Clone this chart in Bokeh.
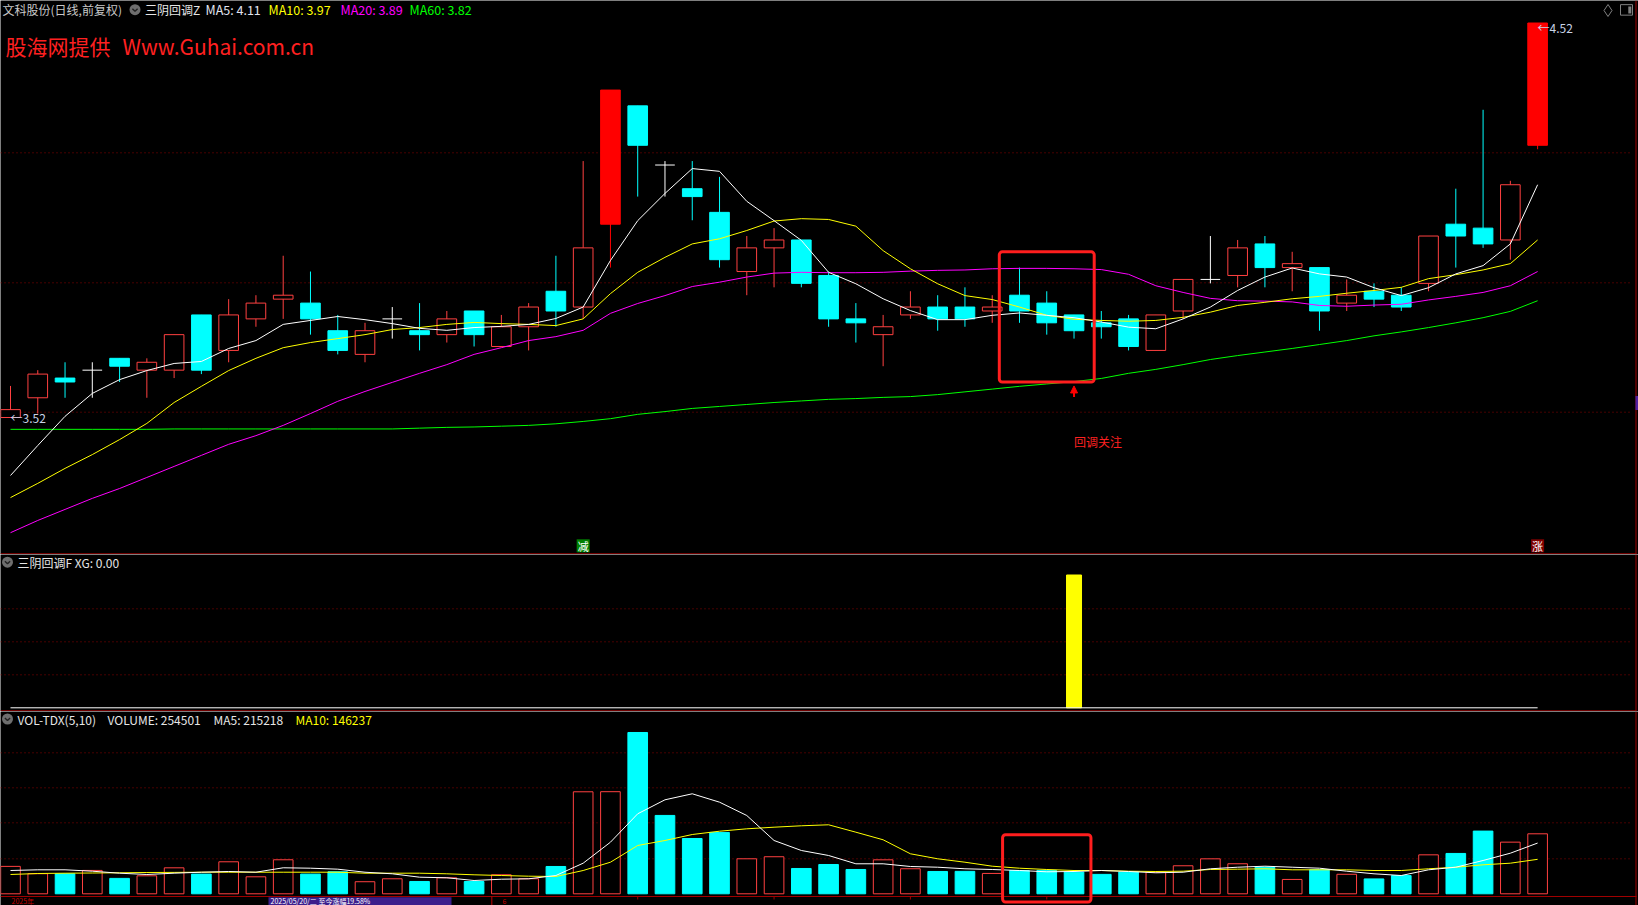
from bokeh.plotting import figure
from bokeh.layouts import column
from bokeh.models import Range1d, BoxAnnotation, Arrow, NormalHead
from bokeh.core.properties import value
from bokeh.embed import file_html
from bokeh.resources import INLINE

# ---------------- data ----------------
stock_title = "文科股份(日线,前复权)"
main_indicator = "三阴回调Z"
sub_indicator = "三阴回调F"
vol_indicator = "VOL-TDX(5,10)"
watermark_cn = "股海网提供"
watermark_url = "Www.Guhai.com.cn"
pullback_label = "回调关注"
year_label = "2025年"
cursor_label = "2025/05/20/二  至今涨幅19.58%"
month_label = "6"

opens = [3.52, 3.57, 3.62, 3.64, 3.67, 3.64, 3.64, 3.78, 3.69, 3.77,
         3.82, 3.81, 3.74, 3.68, 3.77, 3.74, 3.73, 3.79, 3.70, 3.75,
         3.84, 3.80, 4.01, 4.31, 4.16, 4.10, 4.04, 3.89, 3.95, 3.97,
         3.88, 3.77, 3.73, 3.78, 3.80, 3.80, 3.79, 3.83, 3.81, 3.78,
         3.76, 3.77, 3.69, 3.79, 3.87, 3.88, 3.96, 3.90, 3.90, 3.81,
         3.84, 3.83, 3.86, 4.01, 4.00, 3.97, 4.21]
highs = [3.60, 3.64, 3.66, 3.66, 3.67, 3.67, 3.73, 3.78, 3.82, 3.83,
         3.93, 3.89, 3.78, 3.76, 3.80, 3.81, 3.79, 3.79, 3.78, 3.81,
         3.93, 4.17, 4.35, 4.31, 4.17, 4.17, 4.13, 3.98, 4.00, 3.97,
         3.89, 3.81, 3.78, 3.84, 3.83, 3.85, 3.83, 3.90, 3.84, 3.78,
         3.79, 3.78, 3.78, 3.87, 3.98, 3.97, 3.98, 3.94, 3.90, 3.87,
         3.86, 3.85, 3.98, 4.10, 4.30, 4.12, 4.52]
lows = [3.52, 3.53, 3.57, 3.57, 3.61, 3.57, 3.62, 3.63, 3.66, 3.75,
        3.77, 3.73, 3.68, 3.66, 3.72, 3.69, 3.71, 3.70, 3.70, 3.69,
        3.75, 3.77, 3.90, 4.08, 4.08, 4.02, 3.90, 3.83, 3.85, 3.85,
        3.75, 3.71, 3.65, 3.77, 3.74, 3.75, 3.76, 3.76, 3.73, 3.72,
        3.72, 3.69, 3.69, 3.77, 3.86, 3.85, 3.85, 3.84, 3.74, 3.79,
        3.80, 3.79, 3.84, 3.90, 3.95, 3.92, 4.20]
closes = [3.54, 3.63, 3.61, 3.64, 3.65, 3.66, 3.73, 3.64, 3.78, 3.81,
          3.83, 3.77, 3.69, 3.74, 3.77, 3.73, 3.77, 3.73, 3.75, 3.80,
          3.79, 3.95, 4.35, 4.21, 4.16, 4.08, 3.92, 3.95, 3.97, 3.86,
          3.77, 3.76, 3.75, 3.80, 3.77, 3.77, 3.80, 3.79, 3.76, 3.74,
          3.75, 3.70, 3.78, 3.87, 3.87, 3.95, 3.90, 3.91, 3.79, 3.83,
          3.82, 3.80, 3.98, 3.98, 3.96, 4.11, 4.52]

ma5 = [3.373, 3.449, 3.523, 3.581, 3.616, 3.639, 3.657, 3.662, 3.695, 3.715,
       3.756, 3.766, 3.776, 3.768, 3.758, 3.746, 3.741, 3.748, 3.751, 3.756,
       3.771, 3.800, 3.918, 4.019, 4.088, 4.151, 4.144, 4.068, 4.019, 3.969,
       3.888, 3.859, 3.821, 3.791, 3.768, 3.768, 3.779, 3.785, 3.779, 3.773,
       3.762, 3.749, 3.745, 3.770, 3.800, 3.842, 3.876, 3.899, 3.884, 3.876,
       3.849, 3.829, 3.849, 3.884, 3.905, 3.960, 4.110]
ma10 = [3.317, 3.353, 3.391, 3.426, 3.464, 3.505, 3.558, 3.599, 3.639, 3.670,
        3.697, 3.710, 3.720, 3.730, 3.743, 3.748, 3.756, 3.761, 3.758, 3.756,
        3.753, 3.770, 3.834, 3.888, 3.926, 3.960, 3.973, 3.994, 4.018, 4.024,
        4.022, 4.005, 3.943, 3.897, 3.859, 3.829, 3.819, 3.800, 3.779, 3.769,
        3.766, 3.764, 3.766, 3.774, 3.787, 3.804, 3.812, 3.821, 3.827, 3.835,
        3.842, 3.850, 3.872, 3.882, 3.894, 3.910, 3.970]
ma20 = [3.228, 3.259, 3.287, 3.315, 3.340, 3.368, 3.396, 3.424, 3.452, 3.474,
        3.500, 3.530, 3.561, 3.586, 3.609, 3.632, 3.654, 3.680, 3.697, 3.715,
        3.725, 3.741, 3.784, 3.809, 3.829, 3.852, 3.863, 3.876, 3.886, 3.888,
        3.887, 3.887, 3.888, 3.891, 3.893, 3.894, 3.897, 3.898, 3.898, 3.897,
        3.895, 3.883, 3.854, 3.837, 3.822, 3.816, 3.815, 3.813, 3.804, 3.802,
        3.805, 3.807, 3.818, 3.827, 3.837, 3.854, 3.890]
ma60 = [3.490, 3.490, 3.490, 3.490, 3.490, 3.490, 3.491, 3.491, 3.491, 3.491,
        3.491, 3.491, 3.491, 3.491, 3.491, 3.493, 3.495, 3.496, 3.498, 3.500,
        3.504, 3.510, 3.517, 3.528, 3.535, 3.543, 3.548, 3.553, 3.558, 3.562,
        3.566, 3.568, 3.571, 3.573, 3.578, 3.585, 3.592, 3.599, 3.605, 3.611,
        3.619, 3.632, 3.642, 3.654, 3.667, 3.677, 3.686, 3.695, 3.705, 3.715,
        3.727, 3.737, 3.748, 3.760, 3.773, 3.789, 3.816]

volumes = [116300, 85200, 84900, 99100, 65400, 76300, 110200, 83500, 135800, 72100,
           144300, 83600, 93400, 51200, 63700, 52300, 67900, 52100, 80800, 63900,
           115900, 432700, 433100, 684200, 332400, 234600, 260300, 148500, 157200, 107400,
           124300, 103200, 144100, 106300, 94700, 95200, 86400, 98900, 99300, 92100,
           82400, 92300, 91800, 118900, 148300, 127400, 113200, 60900, 102200, 82800,
           63100, 77300, 165300, 171200, 266000, 219100, 254501]
vol_ma5 = [98800, 101800, 101800, 95900, 87400, 81900, 87400, 91600, 94600, 91600,
           110300, 108600, 104400, 91600, 84800, 70400, 67900, 56400, 61900, 63600,
           77600, 129800, 218900, 339400, 398700, 424200, 388600, 332100, 226100, 183700,
           162500, 127300, 127300, 115800, 112800, 106100, 103100, 98800, 93300, 94600,
           98800, 94600, 89100, 91600, 106100, 112800, 117100, 112800, 108600, 95900,
           84800, 77600, 101800, 112800, 141300, 172200, 215218]
vol_ma10 = [81900, 86100, 87400, 88200, 89100, 90400, 90800, 91600, 91600, 91600,
            91600, 91600, 91600, 87400, 87400, 87400, 84800, 80600, 77600, 74700,
            73400, 98800, 134000, 204900, 226100, 251500, 265500, 275700, 282500, 288500,
            292700, 261300, 229100, 169700, 148500, 134000, 117100, 108600, 103100, 98800,
            98800, 95900, 94600, 95900, 103100, 104400, 106100, 101800, 101800, 101800,
            98800, 98800, 106100, 112800, 123000, 129800, 146237]

xg = [0, 0, 0, 0, 0, 0, 0, 0, 0, 0,
      0, 0, 0, 0, 0, 0, 0, 0, 0, 0,
      0, 0, 0, 0, 0, 0, 0, 0, 0, 0,
      0, 0, 0, 0, 0, 0, 0, 0, 0, 1,
      0, 0, 0, 0, 0, 0, 0, 0, 0, 0,
      0, 0, 0, 0, 0, 0, 0]
xg_now = [0.00]

sell_mark_idx = [21]
rise_mark_idx = [56]
highlight_idx = [37, 38, 39]
highlight_price = [3.94, 3.61]      # box top, box bottom
highlight_vol_top = [251000]
pullback_arrow_price = [3.60]
pullback_text_price = [3.46]
week_tick_idx = [23, 28, 33, 38]
month_tick_idx = [18]

# ---------------- layout ----------------
FONT = "Noto Sans CJK SC"
REF_W, REF_H = 1638, 905
W, H = 1638, 905
BOUNDS = [0, 554, 711, 905]
PIX = [round(b * H / REF_H) for b in BOUNDS]
X_FIRST, X_STEP = 10.0, 27.27

BG = "#000000"
GRID = "#8c0000"
FRAME = "#a00000"
UP = "#ff4040"
DOWN = "#00ffff"
LIMIT = "#ff0000"
DOJI = "#ffffff"
YEL = "#ffff00"
MAG = "#ff00ff"
GRN = "#00ff00"
WHT = "#ffffff"
BOXRED = "#ff1e1e"
BODY_W = 0.72

n = len(closes)
idx = list(range(n))
xr = Range1d((0 - X_FIRST) / X_STEP, (REF_W - X_FIRST) / X_STEP)


def lin(ya, va, yb, vb):
    k = (vb - va) / (yb - ya)
    return lambda y: va + (y - ya) * k


lo_i = lows.index(min(lows))
hi_i = highs.index(max(highs))
price_of = lin(417.0, lows[lo_i], 22.5, highs[hi_i])
sig_of = lin(707.3, 0.0, 574.5, 1.0)
vol_of = lin(893.3, 0.0, 833.3, volumes[-1])


def make_panel(k, to_val):
    top, bot = BOUNDS[k], BOUNDS[k + 1]
    h = PIX[k + 1] - PIX[k]
    p = figure(width=W, height=h, x_range=xr,
               y_range=Range1d(to_val(bot), to_val(top)),
               x_axis_type=None, y_axis_type=None,
               output_backend="svg", toolbar_location=None,
               background_fill_color=BG, border_fill_color=BG,
               outline_line_color=None, min_border=0)
    p.extra_x_ranges = {"px": Range1d(0, REF_W)}
    p.extra_y_ranges = {"px": Range1d(bot, top)}
    return p


def txt(p, x, y, s, color, size=12, align="left", baseline="middle"):
    p.text(x=[x], y=[y], text=[s], x_range_name="px", y_range_name="px",
           text_font=value(FONT), text_font_size=f"{size}px", text_color=color,
           text_align=align, text_baseline=baseline)


def icon(p, x, y):
    p.scatter(x=[x], y=[y], size=11, marker="circle", fill_color="#6e6e6e",
              line_color=None, x_range_name="px", y_range_name="px")
    p.line(x=[x - 2.6, x, x + 2.6], y=[y - 1.0, y + 1.6, y - 1.0],
           line_color="#222222", line_width=1.4, x_range_name="px", y_range_name="px")


def hgrid(p, ys):
    p.segment(x0=[0] * len(ys), y0=ys, x1=[1632] * len(ys), y1=ys,
              x_range_name="px", y_range_name="px",
              line_color=GRID, line_width=1, line_dash="1 3")


def kind(i):
    o, c = opens[i], closes[i]
    if i > 0 and c > o and c >= closes[i - 1] * 1.1 - 0.006:
        return "limit"
    if c > o:
        return "up"
    if c < o:
        return "down"
    return "doji"


kinds = [kind(i) for i in idx]
wick_col = {"up": UP, "down": DOWN, "doji": DOJI, "limit": LIMIT}

# ================= main panel =================
p1 = make_panel(0, price_of)
hgrid(p1, [152.3, 282.3, 411.7])
p1.segment(x0=[0], y0=[553.3], x1=[1636], y1=[553.3], x_range_name="px",
           y_range_name="px", line_color=FRAME, line_width=1)
p1.segment(x0=[1635.5], y0=[0], x1=[1635.5], y1=[554], x_range_name="px",
           y_range_name="px", line_color=FRAME, line_width=1)

p1.segment(x0=idx, y0=lows, x1=idx, y1=highs,
           line_color=[wick_col[k] for k in kinds], line_width=1)
ui = [i for i in idx if kinds[i] == "up"]
di = [i for i in idx if kinds[i] == "down"]
li = [i for i in idx if kinds[i] == "limit"]
zi = [i for i in idx if kinds[i] == "doji"]
p1.vbar(x=ui, top=[closes[i] for i in ui], bottom=[opens[i] for i in ui],
        width=BODY_W, fill_color=BG, line_color=UP, line_width=1)
p1.vbar(x=di, top=[opens[i] for i in di], bottom=[closes[i] for i in di],
        width=BODY_W, fill_color=DOWN, line_color=DOWN, line_width=1)
p1.vbar(x=li, top=[closes[i] for i in li], bottom=[opens[i] for i in li],
        width=BODY_W, fill_color=LIMIT, line_color=LIMIT, line_width=1)
p1.segment(x0=[i - BODY_W / 2 for i in zi], y0=[closes[i] for i in zi],
           x1=[i + BODY_W / 2 for i in zi], y1=[closes[i] for i in zi],
           line_color=DOJI, line_width=1)

p1.line(idx, ma60, line_color=GRN, line_width=1)
p1.line(idx, ma20, line_color=MAG, line_width=1)
p1.line(idx, ma10, line_color=YEL, line_width=1)
p1.line(idx, ma5, line_color=WHT, line_width=1)

PAD = 0.74
p1.add_layout(BoxAnnotation(left=highlight_idx[0] - PAD, right=highlight_idx[-1] + PAD,
                            top=highlight_price[0], bottom=highlight_price[1],
                            fill_alpha=0, line_color=BOXRED, line_alpha=1.0,
                            line_width=3, border_radius=3))

ai = [i for i in idx if xg[i] > 0][0]
tip = pullback_arrow_price[0]
p1.add_layout(Arrow(end=NormalHead(size=7, fill_color=LIMIT, line_color=LIMIT, line_width=1),
                    x_start=ai, y_start=tip - 11 / 394.5, x_end=ai, y_end=tip,
                    line_color=LIMIT, line_width=2))
p1.text(x=[ai], y=pullback_text_price, text=[pullback_label], text_font=value(FONT),
        text_font_size="12px", text_color="#ff2020", text_align="left",
        text_baseline="middle")

LBL = "#c8d2e6"
p1.text(x=[lo_i], y=[lows[lo_i]], text=[f"←{lows[lo_i]:.2f}"], text_font=value(FONT),
        text_font_size="12px", text_color=LBL, text_align="left", text_baseline="middle")
p1.text(x=[hi_i], y=[highs[hi_i]], text=[f"←{highs[hi_i]:.2f}"], text_font=value(FONT),
        text_font_size="12px", text_color=LBL, text_align="left", text_baseline="middle",
        y_offset=4)

for marks, bg, ch in ((sell_mark_idx, "#008000", "减"), (rise_mark_idx, "#800000", "涨")):
    p1.rect(x=marks, y=[545.3] * len(marks), width=13, height=13, width_units="screen",
            height_units="screen", y_range_name="px", fill_color=bg, line_color=None)
    p1.text(x=marks, y=[545.6] * len(marks), text=[ch] * len(marks), y_range_name="px",
            text_font=value(FONT), text_font_size="11px", text_color=WHT,
            text_align="center", text_baseline="middle")

# header
txt(p1, 2, 9.2, stock_title, "#c8c8c8")
icon(p1, 134.5, 9.2)
txt(p1, 144.5, 9.2, main_indicator, "#e6e6e6")
txt(p1, 205, 9.2, f"MA5: {ma5[-1]:.2f}", "#e0e4f0", size=12.5)
txt(p1, 268, 9.2, f"MA10: {ma10[-1]:.2f}", YEL, size=12.5)
txt(p1, 340, 9.2, f"MA20: {ma20[-1]:.2f}", MAG, size=12.5)
txt(p1, 409, 9.2, f"MA60: {ma60[-1]:.2f}", GRN, size=12.5)
txt(p1, 5, 45, watermark_cn, "#ff2020", size=21)
txt(p1, 122, 45, watermark_url, "#ff2020", size=21)

# top-right chrome
p1.scatter(x=[1607.5], y=[10], size=12, marker="diamond", fill_color=None,
           line_color="#808080", x_range_name="px", y_range_name="px")
p1.rect(x=[1626], y=[9.4], width=12, height=10.5, fill_color=None, line_color="#808080",
        x_range_name="px", y_range_name="px")
p1.rect(x=[1629.3], y=[9.4], width=3, height=7, fill_color="#808080", line_color=None,
        x_range_name="px", y_range_name="px")
p1.rect(x=[1636.5], y=[402.5], width=3, height=14, fill_color="#5020a0", line_color=None,
        x_range_name="px", y_range_name="px")

# ================= signal panel =================
p2 = make_panel(1, sig_of)
hgrid(p2, [608.3, 641.3, 674.3])
p2.segment(x0=[0], y0=[710.3], x1=[1636], y1=[710.3], x_range_name="px",
           y_range_name="px", line_color=FRAME, line_width=1)
p2.segment(x0=[1635.5], y0=[554], x1=[1635.5], y1=[711], x_range_name="px",
           y_range_name="px", line_color=FRAME, line_width=1)
si = [i for i in idx if xg[i] > 0]
p2.vbar(x=si, top=[xg[i] for i in si], bottom=0, width=0.55,
        fill_color=YEL, line_color=YEL)
p2.segment(x0=[idx[0]], y0=[0], x1=[idx[-1]], y1=[0], line_color=WHT, line_width=1)
icon(p2, 7, 561.7)
txt(p2, 17, 562, f"{sub_indicator} XG: {xg_now[0]:.2f}", "#e6e6e6")

# ================= volume panel =================
p3 = make_panel(2, vol_of)
hgrid(p3, [752.3, 787.3, 822.3, 858.3])
p3.segment(x0=[0], y0=[896], x1=[1636], y1=[896], x_range_name="px",
           y_range_name="px", line_color=FRAME, line_width=1)
p3.segment(x0=[1635.5], y0=[711], x1=[1635.5], y1=[905], x_range_name="px",
           y_range_name="px", line_color=FRAME, line_width=1)


def vol_up(i):
    if closes[i] != opens[i]:
        return closes[i] > opens[i]
    return i == 0 or closes[i] >= closes[i - 1]


vu = [i for i in idx if vol_up(i)]
vd = [i for i in idx if not vol_up(i)]
p3.vbar(x=vu, top=[volumes[i] for i in vu], bottom=0, width=BODY_W,
        fill_color=BG, line_color=UP, line_width=1)
p3.vbar(x=vd, top=[volumes[i] for i in vd], bottom=0, width=BODY_W,
        fill_color=DOWN, line_color=DOWN, line_width=1)
p3.line(idx, vol_ma10, line_color=YEL, line_width=1)
p3.line(idx, vol_ma5, line_color=WHT, line_width=1)

p3.add_layout(BoxAnnotation(left=highlight_idx[0] - 0.62, right=highlight_idx[-1] + 0.62,
                            top=highlight_vol_top[0], bottom=vol_of(901.5),
                            fill_alpha=0, line_color=BOXRED, line_alpha=1.0,
                            line_width=3, border_radius=3))

icon(p3, 7, 718.5)
txt(p3, 17, 719, vol_indicator, "#e6e6e6")
txt(p3, 107, 719, f"VOLUME: {volumes[-1]}", "#e6e6e6")
txt(p3, 213, 719, f"MA5: {vol_ma5[-1]}", "#e6e6e6")
txt(p3, 295, 719, f"MA10: {vol_ma10[-1]}", YEL)

# date strip (kept fully inside the frame)
p3.segment(x0=week_tick_idx, y0=[896] * len(week_tick_idx), x1=week_tick_idx,
           y1=[899] * len(week_tick_idx), y_range_name="px", line_color=FRAME)
p3.segment(x0=[m - 0.35 for m in month_tick_idx], y0=[896] * len(month_tick_idx),
           x1=[m - 0.35 for m in month_tick_idx], y1=[905] * len(month_tick_idx),
           y_range_name="px", line_color="#c00000")
p3.quad(left=[268], right=[451], top=[896.8], bottom=[906], fill_color="#3c1e8c",
        line_color=None, x_range_name="px", y_range_name="px")
txt(p3, 11, 900.2, year_label, "#c00000", size=7)
txt(p3, 270, 900.2, cursor_label, WHT, size=7)
txt(p3, 502, 900.2, month_label, "#c00000", size=7)

layout = column(p1, p2, p3, spacing=0)
open("out.html", "w").write(file_html(layout, INLINE))
